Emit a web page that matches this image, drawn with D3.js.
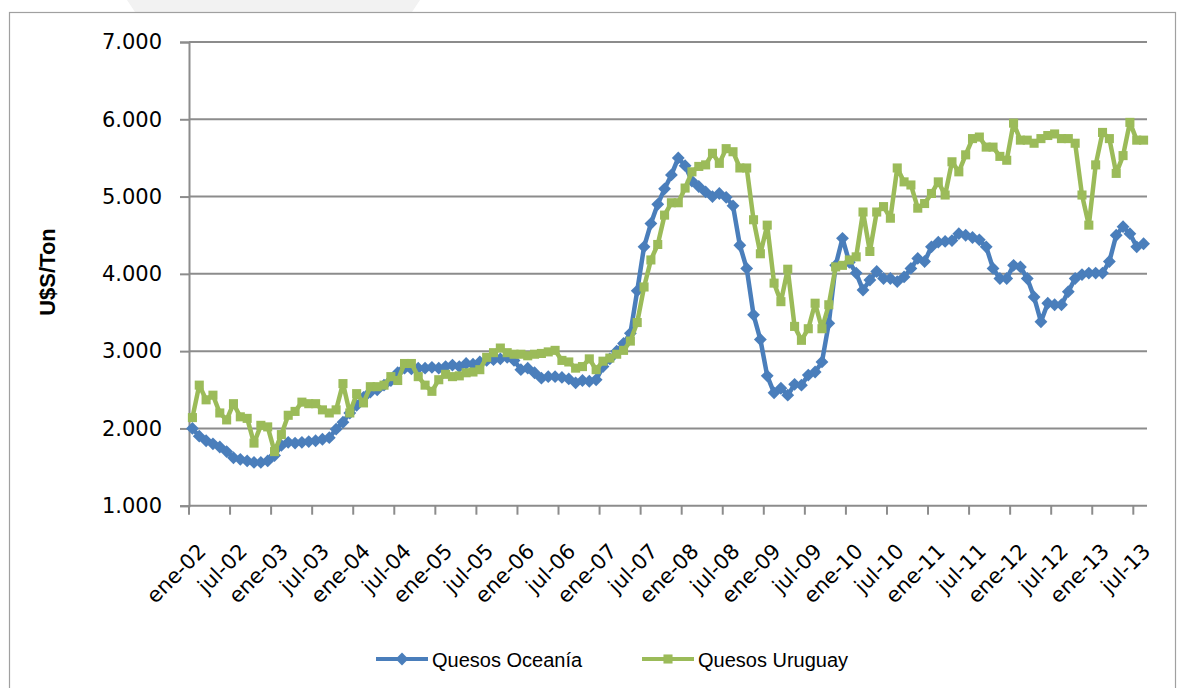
<!DOCTYPE html>
<html>
<head>
<meta charset="utf-8">
<script src="https://cdn.jsdelivr.net/npm/d3@7"></script>
<style>
  html, body { margin: 0; padding: 0; background: #fff; }
  svg { display: block; }
</style>
</head>
<body>
<div id="chart"></div>
<script>
// month names / years used to build the 140 monthly categories (ene-02 .. ago-13)
var monthNames = ["ene", "feb", "mar", "abr", "may", "jun", "jul", "ago", "sep", "oct", "nov", "dic"];
var years = ["02", "03", "04", "05", "06", "07", "08", "09", "10", "11", "12", "13"];

var tickLabels = ["ene-02", "jul-02", "ene-03", "jul-03", "ene-04", "jul-04", "ene-05", "jul-05",
    "ene-06", "jul-06", "ene-07", "jul-07", "ene-08", "jul-08", "ene-09", "jul-09",
    "ene-10", "jul-10", "ene-11", "jul-11", "ene-12", "jul-12", "ene-13", "jul-13"];

var yTicks = [1000, 2000, 3000, 4000, 5000, 6000, 7000];

var oceania = [
    2000, 1900, 1840, 1800, 1760, 1700, 1620, 1600, 1580, 1560, 1560, 1580,
    1650, 1780, 1820, 1810, 1820, 1830, 1840, 1860, 1880, 1990, 2080, 2200,
    2300, 2400, 2470, 2500, 2560, 2620, 2720, 2780, 2770, 2780, 2780, 2790,
    2780, 2800, 2820, 2800, 2840, 2830, 2860, 2880, 2890, 2900, 2920, 2880,
    2760, 2780, 2720, 2650, 2670, 2670, 2660, 2640, 2590, 2620, 2610, 2630,
    2800, 2900, 3000, 3100, 3230, 3780, 4350, 4650, 4900, 5100, 5280, 5500,
    5400, 5200, 5130, 5060, 5000, 5040, 4990, 4880, 4370, 4070, 3470, 3150,
    2680, 2460, 2520, 2430, 2570, 2560, 2690, 2730, 2860, 3360, 4110, 4460,
    4150, 4010, 3790, 3920, 4030, 3940, 3940, 3900, 3960, 4070, 4200, 4160,
    4350, 4410, 4420, 4430, 4520, 4500, 4470, 4440, 4350, 4070, 3940, 3940,
    4110, 4090, 3940, 3700, 3380, 3620, 3600, 3600, 3770, 3940, 3990, 4010,
    4010, 4010, 4160, 4500, 4610, 4520, 4350, 4390
];

var uruguay = [
    2140, 2560, 2370, 2430, 2200, 2110, 2320, 2150, 2130, 1810, 2040, 2020,
    1700, 1920, 2170, 2220, 2340, 2320, 2320, 2240, 2200, 2240, 2580, 2200,
    2450, 2330, 2540, 2540, 2560, 2670, 2620, 2840, 2840, 2670, 2560, 2480,
    2630, 2700, 2670, 2680, 2720, 2730, 2760, 2920, 2980, 3040, 2980, 2960,
    2960, 2940, 2960, 2970, 2990, 3010, 2880, 2860, 2780, 2800, 2900, 2760,
    2870, 2910, 2960, 3010, 3130, 3370, 3830, 4180, 4380, 4760, 4920, 4920,
    5110, 5320, 5390, 5410, 5560, 5430, 5620, 5580, 5370, 5370, 4700, 4260,
    4630, 3880, 3640, 4060, 3320, 3140, 3290, 3620, 3290, 3600, 4090, 4110,
    4180, 4220, 4800, 4290, 4800, 4870, 4720, 5370, 5190, 5150, 4850, 4910,
    5040, 5190, 5020, 5450, 5320, 5540, 5750, 5770, 5640, 5640, 5520, 5470,
    5950, 5730, 5730, 5690, 5750, 5790, 5810, 5750, 5750, 5690, 5020, 4630,
    5410, 5830, 5750, 5300, 5530, 5960, 5730, 5730
];

var categories = [];
years.forEach(function (yy) {
    monthNames.forEach(function (m) { categories.push(m + "-" + yy); });
});
categories = categories.slice(0, oceania.length);

var width = 1186, height = 688;
var plot = { left: 189, right: 1147, top: 42, bottom: 505.7 };

var blue = "#4a7ebb", green = "#9bbb59", gridColor = "#8c8c8c";
var tickFont = "'DejaVu Sans', sans-serif";

var svg = d3.select("#chart").append("svg")
    .attr("width", width)
    .attr("height", height);

// faint slide decoration above the chart frame
svg.append("path")
    .attr("d", "M127,0 L420,0 L412,12 L135,12 Z")
    .attr("fill", "#f2f2f2");

// outer frame of the chart area
svg.append("rect")
    .attr("x", 9.5).attr("y", 12.5)
    .attr("width", 1166).attr("height", 700)
    .attr("fill", "#fff")
    .attr("stroke", "#a0a0a0")
    .attr("stroke-width", 1.2);

var x = d3.scalePoint()
    .domain(categories)
    .range([plot.left, plot.right])
    .padding(0.5);
var step = x.step();

var y = d3.scaleLinear()
    .domain([1000, 7000])
    .range([plot.bottom, plot.top]);

// horizontal gridlines + y ticks
var yAxis = svg.append("g")
    .attr("transform", "translate(" + plot.left + ",0)")
    .call(d3.axisLeft(y)
        .tickValues(yTicks)
        .tickSize(9)
        .tickPadding(18)
        .tickFormat(function (d) { return d3.format(",")(d).replace(",", "."); }));
yAxis.select(".domain").attr("stroke", gridColor).attr("stroke-width", 2);
yAxis.selectAll(".tick line").attr("stroke", gridColor).attr("stroke-width", 2);
yAxis.selectAll(".tick text")
    .attr("font-family", tickFont)
    .attr("font-size", 21)
    .attr("fill", "#000");

svg.append("g").selectAll("line")
    .data(yTicks)
    .enter().append("line")
    .attr("x1", plot.left)
    .attr("x2", plot.right)
    .attr("y1", function (d) { return y(d); })
    .attr("y2", function (d) { return y(d); })
    .attr("stroke", gridColor)
    .attr("stroke-width", 2);

// x axis: ticks at category boundaries every 6 months, labels on the category
var xAxis = svg.append("g");
var labelCats = tickLabels.map(function (t, i) { return categories[i * 6]; });

xAxis.selectAll("line")
    .data(labelCats)
    .enter().append("line")
    .attr("x1", function (d) { return x(d) - step / 2; })
    .attr("x2", function (d) { return x(d) - step / 2; })
    .attr("y1", plot.bottom)
    .attr("y2", plot.bottom + 9)
    .attr("stroke", gridColor)
    .attr("stroke-width", 2);

xAxis.selectAll("text")
    .data(labelCats)
    .enter().append("text")
    .attr("transform", function (d) {
        return "translate(" + (x(d) + 4) + "," + (plot.bottom + 36) + ")rotate(-45)";
    })
    .attr("text-anchor", "end")
    .attr("dy", "0.73em")
    .attr("font-family", tickFont)
    .attr("font-size", 21)
    .text(function (d, i) { return tickLabels[i]; });

// y axis title
svg.append("text")
    .attr("transform", "translate(55,272)rotate(-90)")
    .attr("text-anchor", "middle")
    .attr("font-family", "'Liberation Sans', Arial, sans-serif")
    .attr("font-weight", "bold")
    .attr("font-size", 22)
    .text("U$S/Ton");

var line = d3.line()
    .x(function (d, i) { return x(categories[i]); })
    .y(function (d) { return y(d); });

var diamond = d3.symbol().type(d3.symbolDiamond2).size(105);
var square = d3.symbol().type(d3.symbolSquare2).size(105);

function drawSeries(values, color, shape, cls) {
    var g = svg.append("g").attr("class", cls);
    g.append("path")
        .datum(values)
        .attr("d", line)
        .attr("fill", "none")
        .attr("stroke", color)
        .attr("stroke-width", 4.5)
        .attr("stroke-linejoin", "round");
    g.selectAll("path.mark")
        .data(values)
        .enter().append("path")
        .attr("class", "mark")
        .attr("d", shape)
        .attr("transform", function (d, i) {
            return "translate(" + x(categories[i]) + "," + y(d) + ")";
        })
        .attr("fill", color);
}

drawSeries(oceania, blue, diamond, "oceania");
drawSeries(uruguay, green, square, "uruguay");

// legend
var legendItems = [
    { name: "Quesos Oceanía", color: blue, shape: diamond, x: 376 },
    { name: "Quesos Uruguay", color: green, shape: square, x: 642 }
];
var legend = svg.append("g");
legendItems.forEach(function (it) {
    var g = legend.append("g").attr("transform", "translate(" + it.x + ",659)");
    g.append("line")
        .attr("x1", 0).attr("x2", 52)
        .attr("stroke", it.color)
        .attr("stroke-width", 4);
    g.append("path")
        .attr("d", it.shape)
        .attr("transform", "translate(26,0)")
        .attr("fill", it.color);
    g.append("text")
        .attr("x", 56)
        .attr("y", 7.5)
        .attr("font-family", "'Liberation Sans', Arial, sans-serif")
        .attr("font-size", 20)
        .text(it.name);
});
</script>
</body>
</html>
